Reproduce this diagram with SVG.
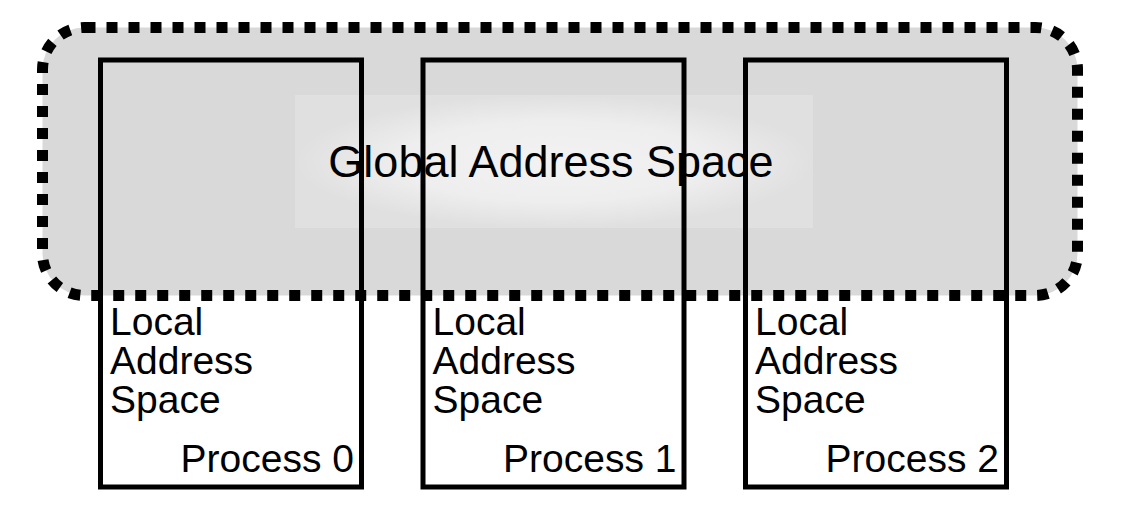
<svg xmlns="http://www.w3.org/2000/svg" width="1123" height="510" viewBox="0 0 1123 510">
  <style>
    .global { fill: #d9d9d9; stroke: #000; stroke-width: 11; stroke-dasharray: 11 11; }
    .proc { fill: none; stroke: #000; stroke-width: 5; }
    .t { font-family: "Liberation Sans", Arial, sans-serif; fill: #000; }
    .gl { font-size: 45px; text-anchor: middle; }
    .lo { font-size: 39px; }
    .pn { font-size: 39px; text-anchor: end; }
  </style>
  <defs>
    <radialGradient id="glow" cx="50%" cy="50%" r="50%">
      <stop offset="0" stop-color="#f2f2f2"/>
      <stop offset="0.6" stop-color="#eeeeee"/>
      <stop offset="1" stop-color="#e0e0e0"/>
    </radialGradient>
  </defs>
  <rect width="1123" height="510" fill="#fff"/>
  <g id="global-address-space">
    <rect class="global" x="42.5" y="27.5" width="1035" height="268" rx="42" ry="42"/>
    <rect x="295" y="95" width="518" height="133" fill="url(#glow)"/>
    <text class="t gl" x="551" y="177">Global Address Space</text>
  </g>
  <g id="process-0">
    <rect class="proc" x="100.5" y="60" width="261" height="427"/>
    <text class="t lo" x="110" y="335">Local</text>
    <text class="t lo" x="110" y="374">Address</text>
    <text class="t lo" x="110" y="413">Space</text>
    <text class="t pn" x="354" y="472">Process 0</text>
  </g>
  <g id="process-1">
    <rect class="proc" x="423" y="60" width="261" height="427"/>
    <text class="t lo" x="432.5" y="335">Local</text>
    <text class="t lo" x="432.5" y="374">Address</text>
    <text class="t lo" x="432.5" y="413">Space</text>
    <text class="t pn" x="676.5" y="472">Process 1</text>
  </g>
  <g id="process-2">
    <rect class="proc" x="745.5" y="60" width="261" height="427"/>
    <text class="t lo" x="755" y="335">Local</text>
    <text class="t lo" x="755" y="374">Address</text>
    <text class="t lo" x="755" y="413">Space</text>
    <text class="t pn" x="999" y="472">Process 2</text>
  </g>
  <g id="connectors"/>
</svg>
